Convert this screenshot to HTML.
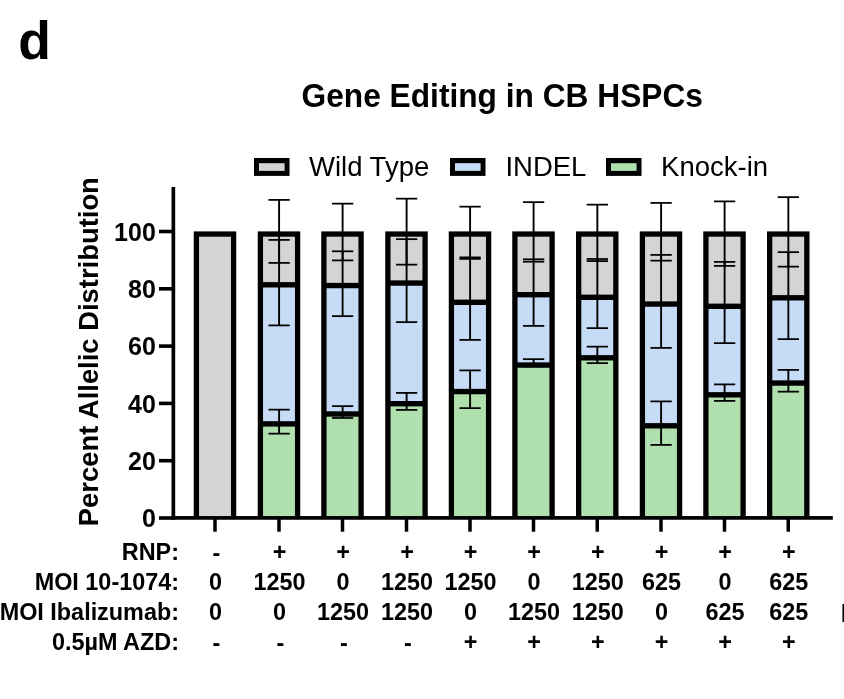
<!DOCTYPE html>
<html lang="en"><head><meta charset="utf-8"><title>Gene Editing in CB HSPCs</title>
<style>
html,body{margin:0;padding:0;background:#fff;}
body{width:844px;height:699px;overflow:hidden;position:relative;}
svg{position:absolute;left:0;top:0;display:block;}
text{font-family:"Liberation Sans",sans-serif;fill:#000;}
.b{font-weight:700;}
</style></head><body>
<svg width="844" height="699" viewBox="0 0 844 699">
<rect x="0" y="0" width="844" height="699" fill="#ffffff"/>
<text class="b" x="18.3" y="59.0" font-size="53.5">d</text>
<text class="b" transform="translate(502.25,107) scale(1,1.035)" font-size="31.7" text-anchor="middle">Gene Editing in CB HSPCs</text>
<rect x="254" y="158" width="35.5" height="17.9" fill="#000"/><rect x="259" y="163.2" width="25.6" height="7.7" fill="#d4d4d4"/>
<text x="309" y="176" font-size="27.5">Wild Type</text>
<rect x="450" y="158" width="35.5" height="17.9" fill="#000"/><rect x="455" y="163.2" width="25.6" height="7.7" fill="#c6dcf6"/>
<text x="505.4" y="176" font-size="27.5">INDEL</text>
<rect x="606" y="158" width="35.5" height="17.9" fill="#000"/><rect x="611" y="163.2" width="25.6" height="7.7" fill="#afe0ae"/>
<text x="661.1" y="176" font-size="27.5">Knock-in</text>
<text class="b" transform="translate(98.2,526.2) rotate(-90)" font-size="27.4">Percent Allelic Distribution</text>
<g>
<rect x="193.75" y="231.40" width="42.5" height="286.60" fill="#000"/>
<rect x="199.05" y="236.70" width="31.90" height="281.30" fill="#d4d4d4"/>
</g>
<g>
<rect x="257.75" y="231.40" width="42.5" height="286.60" fill="#000"/>
<rect x="263.05" y="236.70" width="31.90" height="45.40" fill="#d4d4d4"/>
<rect x="263.05" y="287.50" width="31.90" height="133.70" fill="#c6dcf6"/>
<rect x="263.05" y="426.60" width="31.90" height="91.40" fill="#afe0ae"/>
<rect x="278.15" y="199.90" width="1.9" height="63.00" fill="#000"/><rect x="268.45" y="199.03" width="21.3" height="1.75" fill="#000"/><rect x="268.45" y="262.02" width="21.3" height="1.75" fill="#000"/>
<rect x="278.15" y="239.90" width="1.9" height="85.50" fill="#000"/><rect x="268.45" y="239.03" width="21.3" height="1.75" fill="#000"/><rect x="268.45" y="324.52" width="21.3" height="1.75" fill="#000"/>
<rect x="278.15" y="409.65" width="1.9" height="24.00" fill="#000"/><rect x="268.45" y="408.77" width="21.3" height="1.75" fill="#000"/><rect x="268.45" y="432.77" width="21.3" height="1.75" fill="#000"/>
</g>
<g>
<rect x="321.25" y="231.40" width="42.5" height="286.60" fill="#000"/>
<rect x="326.55" y="236.70" width="31.90" height="46.15" fill="#d4d4d4"/>
<rect x="326.55" y="288.25" width="31.90" height="123.05" fill="#c6dcf6"/>
<rect x="326.55" y="416.70" width="31.90" height="101.30" fill="#afe0ae"/>
<rect x="341.65" y="203.65" width="1.9" height="56.75" fill="#000"/><rect x="331.95" y="202.78" width="21.3" height="1.75" fill="#000"/><rect x="331.95" y="259.52" width="21.3" height="1.75" fill="#000"/>
<rect x="341.65" y="251.30" width="1.9" height="64.85" fill="#000"/><rect x="331.95" y="250.43" width="21.3" height="1.75" fill="#000"/><rect x="331.95" y="315.27" width="21.3" height="1.75" fill="#000"/>
<rect x="341.65" y="406.15" width="1.9" height="11.85" fill="#000"/><rect x="331.95" y="405.27" width="21.3" height="1.75" fill="#000"/><rect x="331.95" y="417.12" width="21.3" height="1.75" fill="#000"/>
</g>
<g>
<rect x="385.25" y="231.40" width="42.5" height="286.60" fill="#000"/>
<rect x="390.55" y="236.70" width="31.90" height="43.65" fill="#d4d4d4"/>
<rect x="390.55" y="285.75" width="31.90" height="115.25" fill="#c6dcf6"/>
<rect x="390.55" y="406.40" width="31.90" height="111.60" fill="#afe0ae"/>
<rect x="405.65" y="198.65" width="1.9" height="66.00" fill="#000"/><rect x="395.95" y="197.78" width="21.3" height="1.75" fill="#000"/><rect x="395.95" y="263.77" width="21.3" height="1.75" fill="#000"/>
<rect x="405.65" y="239.15" width="1.9" height="83.00" fill="#000"/><rect x="395.95" y="238.28" width="21.3" height="1.75" fill="#000"/><rect x="395.95" y="321.27" width="21.3" height="1.75" fill="#000"/>
<rect x="405.65" y="392.90" width="1.9" height="17.00" fill="#000"/><rect x="395.95" y="392.02" width="21.3" height="1.75" fill="#000"/><rect x="395.95" y="409.02" width="21.3" height="1.75" fill="#000"/>
</g>
<g>
<rect x="448.75" y="231.40" width="42.5" height="286.60" fill="#000"/>
<rect x="454.05" y="236.70" width="31.90" height="62.90" fill="#d4d4d4"/>
<rect x="454.05" y="305.00" width="31.90" height="83.85" fill="#c6dcf6"/>
<rect x="454.05" y="394.25" width="31.90" height="123.75" fill="#afe0ae"/>
<rect x="469.15" y="206.65" width="1.9" height="52.25" fill="#000"/><rect x="459.45" y="205.78" width="21.3" height="1.75" fill="#000"/><rect x="459.45" y="258.02" width="21.3" height="1.75" fill="#000"/>
<rect x="469.15" y="257.40" width="1.9" height="82.50" fill="#000"/><rect x="459.45" y="256.52" width="21.3" height="1.75" fill="#000"/><rect x="459.45" y="339.02" width="21.3" height="1.75" fill="#000"/>
<rect x="469.15" y="370.40" width="1.9" height="37.75" fill="#000"/><rect x="459.45" y="369.52" width="21.3" height="1.75" fill="#000"/><rect x="459.45" y="407.27" width="21.3" height="1.75" fill="#000"/>
</g>
<g>
<rect x="512.25" y="231.40" width="42.5" height="286.60" fill="#000"/>
<rect x="517.55" y="236.70" width="31.90" height="55.30" fill="#d4d4d4"/>
<rect x="517.55" y="297.40" width="31.90" height="64.95" fill="#c6dcf6"/>
<rect x="517.55" y="367.75" width="31.90" height="150.25" fill="#afe0ae"/>
<rect x="532.65" y="202.15" width="1.9" height="59.55" fill="#000"/><rect x="522.95" y="201.28" width="21.3" height="1.75" fill="#000"/><rect x="522.95" y="260.82" width="21.3" height="1.75" fill="#000"/>
<rect x="532.65" y="259.30" width="1.9" height="66.60" fill="#000"/><rect x="522.95" y="258.42" width="21.3" height="1.75" fill="#000"/><rect x="522.95" y="325.02" width="21.3" height="1.75" fill="#000"/>
<rect x="532.65" y="359.15" width="1.9" height="7.25" fill="#000"/><rect x="522.95" y="358.27" width="21.3" height="1.75" fill="#000"/><rect x="522.95" y="365.52" width="21.3" height="1.75" fill="#000"/>
</g>
<g>
<rect x="576.00" y="231.40" width="42.5" height="286.60" fill="#000"/>
<rect x="581.30" y="236.70" width="31.90" height="57.90" fill="#d4d4d4"/>
<rect x="581.30" y="300.00" width="31.90" height="55.10" fill="#c6dcf6"/>
<rect x="581.30" y="360.50" width="31.90" height="157.50" fill="#afe0ae"/>
<rect x="596.40" y="204.65" width="1.9" height="56.45" fill="#000"/><rect x="586.70" y="203.78" width="21.3" height="1.75" fill="#000"/><rect x="586.70" y="260.22" width="21.3" height="1.75" fill="#000"/>
<rect x="596.40" y="259.00" width="1.9" height="69.15" fill="#000"/><rect x="586.70" y="258.12" width="21.3" height="1.75" fill="#000"/><rect x="586.70" y="327.27" width="21.3" height="1.75" fill="#000"/>
<rect x="596.40" y="346.65" width="1.9" height="16.50" fill="#000"/><rect x="586.70" y="345.77" width="21.3" height="1.75" fill="#000"/><rect x="586.70" y="362.27" width="21.3" height="1.75" fill="#000"/>
</g>
<g>
<rect x="639.75" y="231.40" width="42.5" height="286.60" fill="#000"/>
<rect x="645.05" y="236.70" width="31.90" height="64.65" fill="#d4d4d4"/>
<rect x="645.05" y="306.75" width="31.90" height="116.35" fill="#c6dcf6"/>
<rect x="645.05" y="428.50" width="31.90" height="89.50" fill="#afe0ae"/>
<rect x="660.15" y="202.90" width="1.9" height="57.75" fill="#000"/><rect x="650.45" y="202.03" width="21.3" height="1.75" fill="#000"/><rect x="650.45" y="259.77" width="21.3" height="1.75" fill="#000"/>
<rect x="660.15" y="254.90" width="1.9" height="93.00" fill="#000"/><rect x="650.45" y="254.03" width="21.3" height="1.75" fill="#000"/><rect x="650.45" y="347.02" width="21.3" height="1.75" fill="#000"/>
<rect x="660.15" y="401.40" width="1.9" height="43.50" fill="#000"/><rect x="650.45" y="400.52" width="21.3" height="1.75" fill="#000"/><rect x="650.45" y="444.02" width="21.3" height="1.75" fill="#000"/>
</g>
<g>
<rect x="703.25" y="231.40" width="42.5" height="286.60" fill="#000"/>
<rect x="708.55" y="236.70" width="31.90" height="66.90" fill="#d4d4d4"/>
<rect x="708.55" y="309.00" width="31.90" height="83.10" fill="#c6dcf6"/>
<rect x="708.55" y="397.50" width="31.90" height="120.50" fill="#afe0ae"/>
<rect x="723.65" y="201.40" width="1.9" height="64.50" fill="#000"/><rect x="713.95" y="200.53" width="21.3" height="1.75" fill="#000"/><rect x="713.95" y="265.02" width="21.3" height="1.75" fill="#000"/>
<rect x="723.65" y="261.90" width="1.9" height="81.25" fill="#000"/><rect x="713.95" y="261.02" width="21.3" height="1.75" fill="#000"/><rect x="713.95" y="342.27" width="21.3" height="1.75" fill="#000"/>
<rect x="723.65" y="384.40" width="1.9" height="16.50" fill="#000"/><rect x="713.95" y="383.52" width="21.3" height="1.75" fill="#000"/><rect x="713.95" y="400.02" width="21.3" height="1.75" fill="#000"/>
</g>
<g>
<rect x="767.00" y="231.40" width="42.5" height="286.60" fill="#000"/>
<rect x="772.30" y="236.70" width="31.90" height="58.40" fill="#d4d4d4"/>
<rect x="772.30" y="300.50" width="31.90" height="79.85" fill="#c6dcf6"/>
<rect x="772.30" y="385.75" width="31.90" height="132.25" fill="#afe0ae"/>
<rect x="787.40" y="197.15" width="1.9" height="69.50" fill="#000"/><rect x="777.70" y="196.28" width="21.3" height="1.75" fill="#000"/><rect x="777.70" y="265.77" width="21.3" height="1.75" fill="#000"/>
<rect x="787.40" y="252.15" width="1.9" height="87.00" fill="#000"/><rect x="777.70" y="251.28" width="21.3" height="1.75" fill="#000"/><rect x="777.70" y="338.27" width="21.3" height="1.75" fill="#000"/>
<rect x="787.40" y="369.90" width="1.9" height="21.75" fill="#000"/><rect x="777.70" y="369.02" width="21.3" height="1.75" fill="#000"/><rect x="777.70" y="390.77" width="21.3" height="1.75" fill="#000"/>
</g>
<rect x="171.5" y="187" width="3.7" height="332.7" fill="#000"/>
<rect x="171.5" y="516.05" width="661.3" height="3.7" fill="#000"/>
<rect x="159" y="516.20" width="13" height="3.6" fill="#000"/>
<text class="b" x="155.8" y="527.30" font-size="25" text-anchor="end">0</text>
<rect x="159" y="458.90" width="13" height="3.6" fill="#000"/>
<text class="b" x="155.8" y="470.00" font-size="25" text-anchor="end">20</text>
<rect x="159" y="401.60" width="13" height="3.6" fill="#000"/>
<text class="b" x="155.8" y="412.70" font-size="25" text-anchor="end">40</text>
<rect x="159" y="344.30" width="13" height="3.6" fill="#000"/>
<text class="b" x="155.8" y="355.40" font-size="25" text-anchor="end">60</text>
<rect x="159" y="287.00" width="13" height="3.6" fill="#000"/>
<text class="b" x="155.8" y="298.10" font-size="25" text-anchor="end">80</text>
<rect x="159" y="229.70" width="13" height="3.6" fill="#000"/>
<text class="b" x="155.8" y="240.80" font-size="25" text-anchor="end">100</text>
<rect x="213.25" y="518" width="3.5" height="13.7" fill="#000"/>
<rect x="277.25" y="518" width="3.5" height="13.7" fill="#000"/>
<rect x="340.75" y="518" width="3.5" height="13.7" fill="#000"/>
<rect x="404.75" y="518" width="3.5" height="13.7" fill="#000"/>
<rect x="468.25" y="518" width="3.5" height="13.7" fill="#000"/>
<rect x="531.75" y="518" width="3.5" height="13.7" fill="#000"/>
<rect x="595.50" y="518" width="3.5" height="13.7" fill="#000"/>
<rect x="659.25" y="518" width="3.5" height="13.7" fill="#000"/>
<rect x="722.75" y="518" width="3.5" height="13.7" fill="#000"/>
<rect x="786.50" y="518" width="3.5" height="13.7" fill="#000"/>
<text class="b" x="179" y="559.7" font-size="23.4" text-anchor="end">RNP:</text>
<text class="b" x="216.30" y="560.50" font-size="23.4" text-anchor="middle">-</text>
<text class="b" x="279.60" y="559.70" font-size="23.4" text-anchor="middle">+</text>
<text class="b" x="343.10" y="559.70" font-size="23.4" text-anchor="middle">+</text>
<text class="b" x="407.10" y="559.70" font-size="23.4" text-anchor="middle">+</text>
<text class="b" x="470.60" y="559.70" font-size="23.4" text-anchor="middle">+</text>
<text class="b" x="534.10" y="559.70" font-size="23.4" text-anchor="middle">+</text>
<text class="b" x="597.85" y="559.70" font-size="23.4" text-anchor="middle">+</text>
<text class="b" x="661.60" y="559.70" font-size="23.4" text-anchor="middle">+</text>
<text class="b" x="725.10" y="559.70" font-size="23.4" text-anchor="middle">+</text>
<text class="b" x="788.85" y="559.70" font-size="23.4" text-anchor="middle">+</text>
<text class="b" x="179" y="589.8" font-size="23.4" text-anchor="end">MOI 10-1074:</text>
<text class="b" x="215.60" y="589.80" font-size="23.4" text-anchor="middle">0</text>
<text class="b" x="279.60" y="589.80" font-size="23.4" text-anchor="middle">1250</text>
<text class="b" x="343.10" y="589.80" font-size="23.4" text-anchor="middle">0</text>
<text class="b" x="407.10" y="589.80" font-size="23.4" text-anchor="middle">1250</text>
<text class="b" x="470.60" y="589.80" font-size="23.4" text-anchor="middle">1250</text>
<text class="b" x="534.10" y="589.80" font-size="23.4" text-anchor="middle">0</text>
<text class="b" x="597.85" y="589.80" font-size="23.4" text-anchor="middle">1250</text>
<text class="b" x="661.60" y="589.80" font-size="23.4" text-anchor="middle">625</text>
<text class="b" x="725.10" y="589.80" font-size="23.4" text-anchor="middle">0</text>
<text class="b" x="788.85" y="589.80" font-size="23.4" text-anchor="middle">625</text>
<text class="b" x="179" y="619.9" font-size="23.4" text-anchor="end">MOI Ibalizumab:</text>
<text class="b" x="215.60" y="619.90" font-size="23.4" text-anchor="middle">0</text>
<text class="b" x="279.60" y="619.90" font-size="23.4" text-anchor="middle">0</text>
<text class="b" x="343.10" y="619.90" font-size="23.4" text-anchor="middle">1250</text>
<text class="b" x="407.10" y="619.90" font-size="23.4" text-anchor="middle">1250</text>
<text class="b" x="470.60" y="619.90" font-size="23.4" text-anchor="middle">0</text>
<text class="b" x="534.10" y="619.90" font-size="23.4" text-anchor="middle">1250</text>
<text class="b" x="597.85" y="619.90" font-size="23.4" text-anchor="middle">1250</text>
<text class="b" x="661.60" y="619.90" font-size="23.4" text-anchor="middle">0</text>
<text class="b" x="725.10" y="619.90" font-size="23.4" text-anchor="middle">625</text>
<text class="b" x="788.85" y="619.90" font-size="23.4" text-anchor="middle">625</text>
<text class="b" x="179" y="650.1" font-size="23.4" text-anchor="end">0.5µM AZD:</text>
<text class="b" x="216.30" y="650.90" font-size="23.4" text-anchor="middle">-</text>
<text class="b" x="280.30" y="650.90" font-size="23.4" text-anchor="middle">-</text>
<text class="b" x="343.80" y="650.90" font-size="23.4" text-anchor="middle">-</text>
<text class="b" x="407.80" y="650.90" font-size="23.4" text-anchor="middle">-</text>
<text class="b" x="470.60" y="650.10" font-size="23.4" text-anchor="middle">+</text>
<text class="b" x="534.10" y="650.10" font-size="23.4" text-anchor="middle">+</text>
<text class="b" x="597.85" y="650.10" font-size="23.4" text-anchor="middle">+</text>
<text class="b" x="661.60" y="650.10" font-size="23.4" text-anchor="middle">+</text>
<text class="b" x="725.10" y="650.10" font-size="23.4" text-anchor="middle">+</text>
<text class="b" x="788.85" y="650.10" font-size="23.4" text-anchor="middle">+</text>
<text class="b" x="840.7" y="622.1" font-size="25">M</text>
</svg>
</body></html>
